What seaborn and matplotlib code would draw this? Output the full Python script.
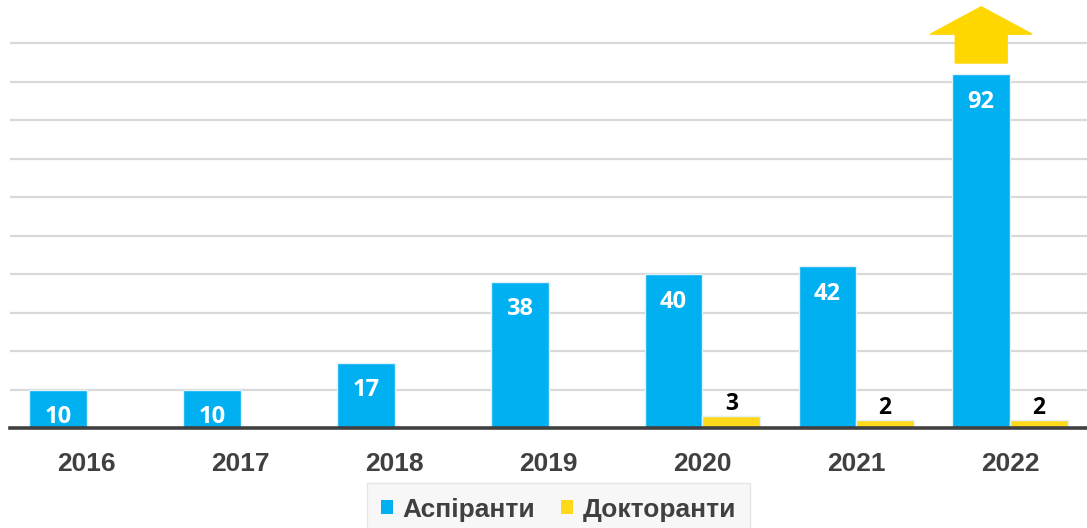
import numpy as np
import pandas as pd
import matplotlib
matplotlib.use("Agg")
import matplotlib.pyplot as plt
from matplotlib.patches import Patch, Polygon
import seaborn as sns

years = ["2016", "2017", "2018", "2019", "2020", "2021", "2022"]
aspirants = [10, 10, 17, 38, 40, 42, 92]
doctorants = [np.nan, np.nan, np.nan, np.nan, 3, 2, 2]
series_names = ["Аспіранти", "Докторанти"]
colors = ["#00B0F0", "#FFD91A"]

df = pd.DataFrame({
    "year": years * 2,
    "value": aspirants + doctorants,
    "series": [series_names[0]] * len(years) + [series_names[1]] * len(years),
})

sns.set_style("white")
plt.rcParams["font.family"] = ["Liberation Sans", "DejaVu Sans"]

fig = plt.figure(figsize=(10.87, 5.28), dpi=100)
ax = fig.add_axes([10 / 1087, 1 - 428 / 528, 1 - 10 / 1087, 428 / 528])

sns.barplot(data=df, x="year", y="value", hue="series", palette=colors,
            width=0.75, ax=ax, edgecolor="#e3f1f8", linewidth=1.0,
            legend=False, saturation=1)

ax.set_xlim(-0.5, len(years) - 0.5)
ax.set_ylim(0, 428 / 3.85)
ax.set_yticks(np.arange(10, 101, 10))
ax.set_yticklabels([])
ax.tick_params(axis="y", length=0)
ax.yaxis.grid(True, color="#d9d9d9", linewidth=1.6)
ax.set_axisbelow(True)
ax.set_xlabel("")
ax.set_ylabel("")
for s in ["top", "right", "left"]:
    ax.spines[s].set_visible(False)
ax.spines["bottom"].set_color("#404040")
ax.spines["bottom"].set_linewidth(2.6)
ax.tick_params(axis="x", length=0, pad=17, labelsize=19, labelcolor="#404040")
for lbl in ax.get_xticklabels():
    lbl.set_fontweight("bold")

# labels (taken from the bars themselves)
asp_bars = ax.containers[0]
doc_bars = ax.containers[1]
for p in asp_bars:
    h = p.get_height()
    if np.isnan(h) or h == 0:
        continue
    cx = p.get_x() + p.get_width() / 2
    ax.annotate(f"{h:g}", (cx, h), xytext=(0, -20),
                textcoords="offset points", ha="center", va="center",
                color="white", fontsize=17, fontweight="bold",
                family=["Open Sans", "DejaVu Sans"])
for p in doc_bars:
    h = p.get_height()
    if np.isnan(h) or h == 0:
        continue
    cx = p.get_x() + p.get_width() / 2
    ax.annotate(f"{h:g}", (cx, h), xytext=(0, 9),
                textcoords="offset points", ha="center", va="center",
                color="black", fontsize=16.5, fontweight="bold",
                family=["Open Sans", "DejaVu Sans"])

# up arrow above the tallest aspirants bar
last = max(asp_bars, key=lambda p: p.get_height())
cx = last.get_x() + last.get_width() / 2
w = last.get_width()
h = last.get_height()
shaft = w * 0.45
head = w * 0.88
y0, y1, y2 = h + 2.8, h + 10.3, h + 17.4
arrow = Polygon([(cx - shaft, y0), (cx + shaft, y0), (cx + shaft, y1),
                 (cx + head, y1), (cx, y2), (cx - head, y1), (cx - shaft, y1)],
                closed=True, facecolor="#FFD700", edgecolor="#FFD700",
                clip_on=False, zorder=3)
ax.add_patch(arrow)

handles = [Patch(facecolor=c, edgecolor="none") for c in colors]
leg = fig.legend(handles, series_names, loc="upper center",
                 bbox_to_anchor=(558.5 / 1087, 1 - 483 / 528), ncol=2,
                 frameon=True, fancybox=False, handlelength=0.45,
                 handleheight=0.45, handletextpad=0.35, columnspacing=1.0,
                 borderpad=0.55, borderaxespad=0.0,
                 prop={"size": 19, "weight": "bold"})
leg.get_frame().set_facecolor("#f6f6f6")
leg.get_frame().set_edgecolor("#e0e0e0")
leg.get_frame().set_linewidth(1.0)
for t in leg.get_texts():
    t.set_color("#404040")

fig.savefig("out.png", dpi=100)
